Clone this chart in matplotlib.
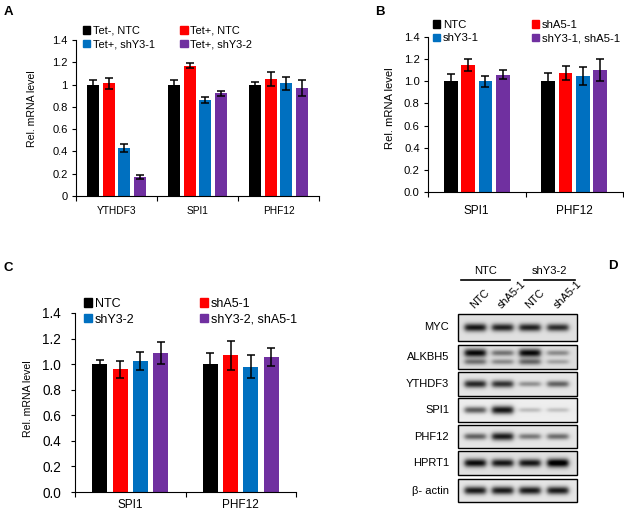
import numpy as np
import matplotlib.pyplot as plt
from matplotlib.patches import Patch, Rectangle

plt.rcParams['font.family'] = ['Liberation Sans', 'DejaVu Sans']

colors = ['#000000', '#ff0000', '#0070c0', '#7030a0']

### Panel A data ###
a_cats = ['YTHDF3', 'SPI1', 'PHF12']
a_labels = ['Tet-, NTC', 'Tet+, NTC', 'Tet+, shY3-1', 'Tet+, shY3-2']
a_vals = [[1.00, 1.00, 1.00], [1.01, 1.17, 1.05], [0.43, 0.86, 1.01], [0.17, 0.92, 0.97]]
a_errs = [[0.045, 0.04, 0.025], [0.052, 0.022, 0.067], [0.035, 0.025, 0.06], [0.018, 0.025, 0.075]]
a_yticks = ['0', '0.2', '0.4', '0.6', '0.8', '1', '1.2', '1.4']

### Panel B data ###
b_cats = ['SPI1', 'PHF12']
b_labels = ['NTC', 'shA5-1', 'shY3-1', 'shY3-1, shA5-1']
b_vals = [[1.00, 1.00], [1.15, 1.075], [1.00, 1.048], [1.06, 1.10]]
b_errs = [[0.065, 0.075], [0.055, 0.063], [0.05, 0.08], [0.04, 0.10]]

### Panel C data ###
c_cats = ['SPI1', 'PHF12']
c_labels = ['NTC', 'shA5-1', 'shY3-2', 'shY3-2, shA5-1']
c_vals = [[1.00, 1.00], [0.96, 1.068], [1.026, 0.981], [1.09, 1.057]]
c_errs = [[0.03, 0.09], [0.065, 0.11], [0.07, 0.09], [0.085, 0.07]]

yticks_1dec = ['0.0', '0.2', '0.4', '0.6', '0.8', '1.0', '1.2', '1.4']

### Panel D data (band darkness per lane) ###
d_groups = ['NTC', 'shY3-2']
d_lanes = ['NTC', 'shA5-1', 'NTC', 'shA5-1']
d_rows = ['MYC', 'ALKBH5', 'YTHDF3', 'SPI1', 'PHF12', 'HPRT1', 'β- actin']
myc = [0.85, 0.80, 0.80, 0.75]
alkbh5_upper = [0.90, 0.45, 0.90, 0.35]
alkbh5_lower = [0.45, 0.35, 0.50, 0.25]
ythdf3 = [0.80, 0.75, 0.35, 0.55]
spi1 = [0.60, 0.90, 0.20, 0.18]
phf12 = [0.55, 0.85, 0.45, 0.50]
hprt1 = [0.90, 0.85, 0.85, 1.00]
actin = [0.85, 0.85, 0.85, 0.85]

W, H = 624, 514


def px_axes(fig, l, t, r, b):
    return fig.add_axes([l / W, 1 - b / H, (r - l) / W, (b - t) / H])


def bar_panel(ax, cats, labels, vals, errs, spacing, width, yticks, fs_tick,
              fs_cat, fs_leg, fs_ylab, ylab_xy, leg_xy, colspace, tickpad, catpad):
    n = len(cats)
    x = np.arange(n) + 0.5
    handles = []
    for j, (v, e) in enumerate(zip(vals, errs)):
        xs = x + (j - 1.5) * spacing
        ax.bar(xs, v, width, color=colors[j], zorder=2)
        ax.errorbar(xs, v, yerr=e, fmt='none', ecolor='black', elinewidth=1.1,
                    capsize=2.6, capthick=1.1, zorder=3)
        handles.append(Patch(color=colors[j], label=labels[j]))
    ax.set_xlim(0, n)
    ax.set_ylim(0, 1.4)
    ax.set_xticks(np.arange(n + 1))
    ax.set_xticklabels([])
    ax.set_xticks(x, minor=True)
    ax.set_xticklabels(cats, minor=True, fontsize=fs_cat)
    ax.tick_params(axis='x', which='minor', length=0, pad=catpad)
    ax.tick_params(axis='x', which='major', length=3.5, width=0.8, direction='out')
    ax.set_yticks(np.linspace(0, 1.4, 8))
    ax.set_yticklabels(yticks, fontsize=fs_tick)
    ax.tick_params(axis='y', length=3, width=0.8, direction='out', pad=tickpad)
    for s in ['top', 'right']:
        ax.spines[s].set_visible(False)
    for s in ['left', 'bottom']:
        ax.spines[s].set_linewidth(0.8)
    ax.set_ylabel('Rel. mRNA level', fontsize=fs_ylab)
    ax.yaxis.set_label_coords(*ylab_xy)
    order = [handles[0], handles[2], handles[1], handles[3]]
    ax.legend(handles=order, ncol=2, loc='upper left', bbox_to_anchor=leg_xy,
              frameon=False, fontsize=fs_leg, handlelength=0.65, handleheight=0.65,
              handletextpad=0.25, columnspacing=colspace, labelspacing=0.3,
              borderpad=0, borderaxespad=0)


def band_image(x0, x1, y0, y1, bands, bg=0.9):
    # bands: list of (vertical position 0-1, darkness per lane)
    nx, ny = int((x1 - x0) * 4), int((y1 - y0) * 4)
    xx = np.linspace(0, x1 - x0, nx)[None, :]
    yy = np.linspace(0, y1 - y0, ny)[:, None]
    dark = np.zeros((ny, nx))
    lane_frac = [0.145, 0.375, 0.605, 0.84]
    for ypos, lane_vals in bands:
        for f, d in zip(lane_frac, lane_vals):
            cx = f * (x1 - x0)
            prof_x = 1 / (1 + np.exp((np.abs(xx - cx) - 10.5) / 1.4))
            sig = 1.3 + 1.8 * d
            prof_y = np.exp(-0.5 * ((yy - ypos * (y1 - y0)) / sig) ** 2)
            dark += d * prof_x * prof_y
    return np.clip(bg - 0.95 * dark, 0, 1)


def main():
    fig = plt.figure(figsize=(6.24, 5.14), dpi=100)

    ax_a = px_axes(fig, 76, 40, 319, 196)
    bar_panel(ax_a, a_cats, a_labels, a_vals, a_errs, 0.19, 0.15, a_yticks,
              8, 7.3, 7.9, 7.6, (-0.16, 0.562), (0.03, 1.09), 2.3, 3, 7)

    ax_b = px_axes(fig, 428, 37, 623, 192)
    bar_panel(ax_b, b_cats, b_labels, b_vals, b_errs, 0.178, 0.14, yticks_1dec,
              8.1, 8.5, 8.2, 8.1, (-0.17, 0.538), (0.025, 1.11), 4.6, 3, 9)

    ax_c = px_axes(fig, 75, 313, 296, 492)
    bar_panel(ax_c, c_cats, c_labels, c_vals, c_errs, 0.185, 0.136, yticks_1dec,
              9.8, 8.5, 9, 7.6, (-0.19, 0.523), (0.04, 1.085), 5.2, 7, 5)

    # overlay in pixel coordinates for blot and panel letters
    ov = fig.add_axes([0, 0, 1, 1], zorder=5)
    ov.set_xlim(0, W)
    ov.set_ylim(H, 0)
    ov.axis('off')
    ov.patch.set_alpha(0)

    for letter, (x, y) in zip('ABCD', [(4, 12), (375, 12), (4, 268), (608, 266)]):
        ov.text(x, y, letter, fontsize=9.5, fontweight='bold', ha='left', va='center')

    # group headers
    for name, (l, r) in zip(d_groups, [(461, 510), (524, 575)]):
        ov.plot([l, r], [280, 280], color='black', lw=1.2)
        ov.text((l + r) / 2, 271, name, fontsize=8, ha='center', va='center')
    lane_x = [475, 502.5, 530, 558]
    for lx, name in zip(lane_x, d_lanes):
        ov.text(lx + 1, 310, name, fontsize=7.8, rotation=45, rotation_mode='anchor',
                ha='left', va='bottom')

    box_l, box_r = 458, 577
    row_spans = [(314, 341), (345, 369), (372, 396), (398, 422), (425, 448), (451, 475), (479, 502)]
    row_bands = [
        [(0.5, myc)],
        [(0.33, alkbh5_upper), (0.7, alkbh5_lower)],
        [(0.5, ythdf3)],
        [(0.5, spi1)],
        [(0.5, phf12)],
        [(0.5, hprt1)],
        [(0.5, actin)],
    ]
    backgrounds = [0.88, 0.87, 0.9, 0.93, 0.9, 0.88, 0.9]
    for name, (t, b), bands, bg in zip(d_rows, row_spans, row_bands, backgrounds):
        img = band_image(box_l, box_r, t, b, bands, bg)
        ov.imshow(img, cmap='gray', vmin=0, vmax=1, extent=(box_l, box_r, b, t),
                  origin='upper', aspect='auto', interpolation='bilinear')
        ov.add_patch(Rectangle((box_l, t), box_r - box_l, b - t, fill=False,
                               edgecolor='black', lw=1.0))
        ov.text(449, (t + b) / 2, name, fontsize=8, ha='right', va='center')
    ov.set_xlim(0, W)
    ov.set_ylim(H, 0)

    fig.savefig('out.png', dpi=100)


if __name__ == '__main__':
    main()
